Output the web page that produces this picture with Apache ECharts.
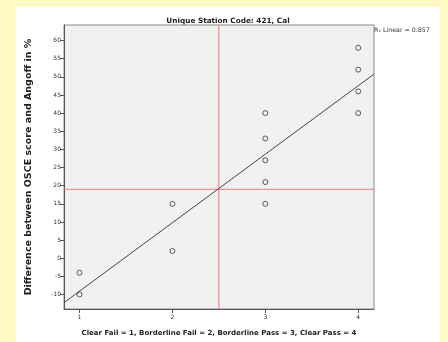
<!DOCTYPE html>
<html><head><meta charset="utf-8">
<script src="https://cdn.jsdelivr.net/npm/echarts@6/dist/echarts.min.js"></script>
<style>
html,body{margin:0;padding:0;background:#fff9c4;width:448px;height:342px;overflow:hidden;}
#c{position:absolute;left:16px;top:7px;width:424px;height:335px;background:#ffffff;}
</style></head>
<body><div id="c"></div>
<script>
const titleText = "Unique Station Code: 421, Cal";
const xName = "Clear Fail = 1, Borderline Fail = 2, Borderline Pass = 3, Clear Pass = 4";
const yName = "Difference between OSCE score and Angoff in %";
const xTicks = [1, 2, 3, 4];
const yTicks = [-10, -5, 0, 5, 10, 15, 20, 25, 30, 35, 40, 45, 50, 55, 60];
const xCat = [1, 1, 2, 2, 3, 3, 3, 3, 3, 4, 4, 4, 4];
const yDiff = [-4, -10, 15, 2, 40, 33, 27, 21, 15, 58, 52, 46, 40];
const cutX = 2.5;
const cutY = 19;
const r2Label = "R\u2082 Linear = 0.857";
const xRange = [0.833, 4.17];
const yRange = [-14, 64.3];

// least squares fit from data
const n = xCat.length;
const mx = xCat.reduce((a,b)=>a+b,0)/n;
const my = yDiff.reduce((a,b)=>a+b,0)/n;
let sxx=0, sxy=0;
for (let i=0;i<n;i++){ sxx += (xCat[i]-mx)**2; sxy += (xCat[i]-mx)*(yDiff[i]-my); }
const slope = sxy/sxx, icpt = my - slope*mx;
const fitLine = xRange.map(x => [x, icpt + slope*x]);

const font = "'DejaVu Sans', Verdana, sans-serif";
const red = '#f07c7c';
const chart = echarts.init(document.getElementById('c'));
chart.setOption({
  animation: false,
  backgroundColor: '#ffffff',
  title: { text: titleText, left: 'center', top: 6,
    textStyle: { fontSize: 7.3, fontWeight: 'bold', color: '#222', fontFamily: font } },
  grid: { left: 44, right: 66, top: 18, bottom: 31, show: true,
    backgroundColor: '#f0f2f1', borderColor: '#8a8a8a', borderWidth: 1 },
  xAxis: { type: 'value', min: xRange[0], max: xRange[1],
    name: xName, nameLocation: 'middle', nameGap: 21,
    nameTextStyle: { fontSize: 7, fontWeight: 'bold', color: '#222', fontFamily: font },
    axisLine: { show: true, onZero: false, lineStyle: { color: '#555', width: 1 } },
    axisTick: { show: true, length: 4, customValues: xTicks, lineStyle: { color: '#555' } },
    axisLabel: { customValues: xTicks, fontSize: 6, color: '#333', margin: 5, fontFamily: font },
    splitLine: { show: false } },
  yAxis: { type: 'value', min: yRange[0], max: yRange[1],
    name: yName, nameLocation: 'middle', nameGap: 30,
    nameTextStyle: { fontSize: 9.5, fontWeight: 'bold', color: '#222', fontFamily: font },
    axisLine: { show: true, onZero: false, lineStyle: { color: '#555', width: 1 } },
    axisTick: { show: true, length: 4, customValues: yTicks, lineStyle: { color: '#555' } },
    axisLabel: { customValues: yTicks, fontSize: 6, color: '#333', margin: 3, fontFamily: font },
    splitLine: { show: false } },
  graphic: [{ type: 'text', left: 358, top: 20,
    style: { text: r2Label, fontSize: 6.3, fill: '#333', fontFamily: font } }],
  series: [
    { type: 'line', data: [[cutX, yRange[0]], [cutX, yRange[1]]], symbol: 'none', silent: true,
      lineStyle: { color: red, width: 1 }, z: 1 },
    { type: 'line', data: [[xRange[0], cutY], [xRange[1], cutY]], symbol: 'none', silent: true,
      lineStyle: { color: red, width: 1 }, z: 1 },
    { type: 'line', data: fitLine, symbol: 'none', silent: true,
      lineStyle: { color: '#444', width: 1 }, z: 2 },
    { type: 'scatter', data: xCat.map((x,i)=>[x, yDiff[i]]), symbol: 'circle', symbolSize: 5,
      itemStyle: { color: 'rgba(0,0,0,0)', borderColor: '#333', borderWidth: 1 }, z: 3 }
  ]
});
</script></body></html>
